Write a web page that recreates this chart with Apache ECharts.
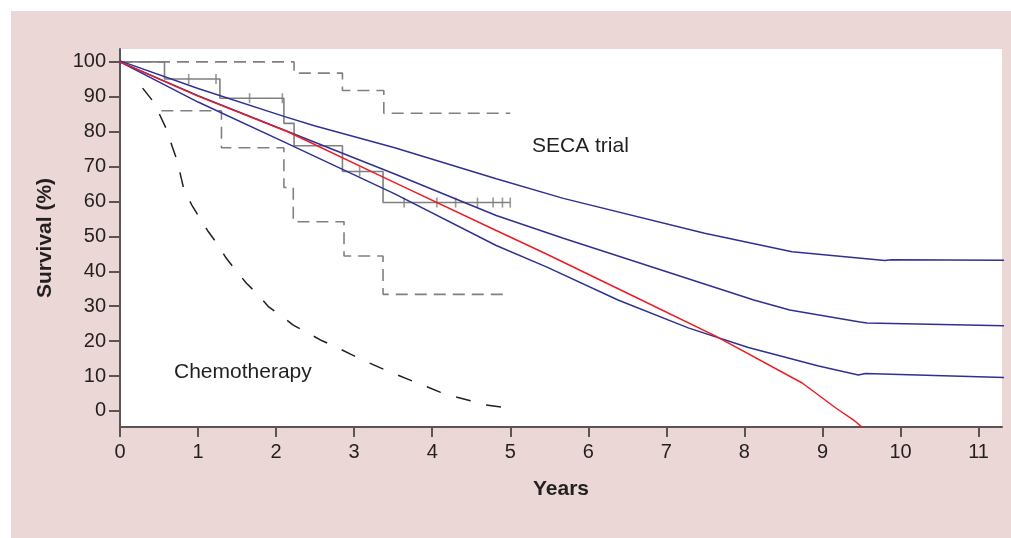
<!DOCTYPE html>
<html>
<head>
<meta charset="utf-8">
<script src="https://cdn.jsdelivr.net/npm/echarts@6/dist/echarts.min.js"></script>
<style>
html,body{margin:0;padding:0;background:#ffffff;width:1011px;height:538px;overflow:hidden;}
#chart{position:absolute;left:11px;top:11px;width:1000px;height:527px;background:#ebd7d6;}
</style>
</head>
<body>
<div id="chart"></div>
<script>
// ---- tick labels ----
const xTicks = [0,1,2,3,4,5,6,7,8,9,10,11];
const yTicks = [0,10,20,30,40,50,60,70,80,90,100];

// ---- annotation texts ----
const labelSeca = 'SECA trial';
const labelChemo = 'Chemotherapy';
const xName = 'Years';
const yName = 'Survival (%)';

// ---- SECA trial Kaplan-Meier (solid grey) ----
const kmSeca = [[0,100],[0.57,95.1],[1.28,89.6],[2.10,82.4],[2.23,76.0],[2.85,68.6],[3.37,59.7],[5.0,59.7]];
// censor marks
const censorSeca = [[0.88,95.1],[1.23,95.1],[1.66,89.6],[2.08,89.6],[3.07,68.6],
  [3.64,59.7],[4.06,59.7],[4.30,59.7],[4.58,59.7],[4.78,59.7],[4.90,59.7],[5.0,59.7]];
// confidence bounds (dashed grey)
const kmUpperCI = [[0,100],[2.23,96.8],[2.85,91.8],[3.38,85.3],[5.0,85.3]];
const kmLowerCI = [[0.53,86.0],[1.30,75.4],[2.10,64.0],[2.22,54.2],[2.87,44.4],[3.37,33.4],[4.95,33.4]];

// ---- modelled survival (blue) ----
const modelUpper = [[0,100.3],[1,92.4],[2.10,84.4],[2.49,81.7],[3.52,75.4],[4.82,66.5],[5.68,60.9],
  [7.49,50.9],[8.61,45.6],[9.80,43.1],[9.88,43.3],[11.4,43.2]];
const modelMiddle = [[0,100],[1,90.3],[2.10,80.5],[3.52,67.9],[4.82,56.0],[5.68,49.5],[8.12,31.8],
  [8.58,28.9],[9.48,25.5],[9.57,25.2],[11.4,24.4]];
const modelLower = [[0,100],[1,88.5],[2.10,77.1],[3.52,62.2],[4.82,47.4],[5.47,41.2],[6.38,31.8],
  [7.28,23.8],[8.05,18.2],[8.95,12.9],[9.46,10.3],[9.55,10.7],[11.4,9.5]];
// ---- red extrapolation ----
const modelRed = [[0,100],[1,90.2],[2.15,80.0],[3.52,65.4],[4.82,51.7],[5.47,44.9],[6.68,31.8],
  [7.62,21.6],[8.74,8.0],[9.18,0.7],[9.40,-2.6],[9.53,-5.1]];

// ---- chemotherapy (black dashed) ----
const chemo = [[0.29,92.5],[0.41,89.1],[0.51,84.8],[0.59,81.0],[0.67,75.7],[0.73,71.9],[0.79,66.2],
  [0.82,63.3],[0.92,59.0],[1.01,55.7],[1.13,51.4],[1.24,48.1],[1.36,43.8],[1.48,40.4],[1.62,36.6],
  [1.76,33.5],[1.90,29.9],[2.06,27.3],[2.22,24.6],[2.40,22.4],[2.59,20.1],[2.77,18.3],[2.96,16.2],
  [3.14,14.3],[3.33,12.4],[3.52,10.6],[3.71,8.9],[3.90,7.2],[4.10,5.4],[4.29,4.1],[4.49,2.9],
  [4.69,1.7],[4.95,0.95]];

const axisColor = '#5a5454';
const textColor = '#231f20';
const grey = '#808080';
const blue = '#2e3192';
const red = '#ed1c24';
const fontFam = '"Liberation Sans", Arial, Helvetica, sans-serif';

const chart = echarts.init(document.getElementById('chart'), null, {renderer:'canvas'});

function lineS(data, color, width, type, step, z){
  return {type:'line', data:data, showSymbol:false, symbol:'none', step:step||false,
    lineStyle:{color:color, width:width, type:type||'solid'}, z:z||2, silent:true};
}

chart.setOption({
  animation:false,
  backgroundColor:'transparent',
  grid:{left:109, top:38, width:882, height:378, show:true, backgroundColor:'#ffffff', borderWidth:0},
  xAxis:{
    type:'value', min:0, max:11.3,
    name:xName, nameLocation:'middle', nameGap:52,
    nameTextStyle:{fontFamily:fontFam, fontSize:21, fontWeight:'bold', color:textColor},
    axisLine:{show:true, onZero:false, lineStyle:{color:axisColor, width:2}},
    axisTick:{show:true, length:10, lineStyle:{color:axisColor, width:2}, customValues:xTicks},
    axisLabel:{fontFamily:fontFam, fontSize:20, color:textColor, margin:15, customValues:xTicks},
    splitLine:{show:false}
  },
  yAxis:{
    type:'value', min:-4.6, max:103.7,
    name:yName, nameLocation:'middle', nameGap:64, nameRotate:90,
    nameTextStyle:{fontFamily:fontFam, fontSize:21, fontWeight:'bold', color:textColor},
    axisLine:{show:true, onZero:false, lineStyle:{color:axisColor, width:2}},
    axisTick:{show:true, length:11, lineStyle:{color:axisColor, width:2}, customValues:yTicks},
    axisLabel:{fontFamily:fontFam, fontSize:20, color:textColor, margin:14, customValues:yTicks},
    splitLine:{show:false}
  },
  graphic:[
    {type:'text', left:521, top:125, style:{text:labelSeca, font:'21px '+fontFam, fill:textColor}},
    {type:'text', left:163, top:351, style:{text:labelChemo, font:'21px '+fontFam, fill:textColor}}
  ],
  series:[
    lineS(chemo, textColor, 1.5, [15,16], false, 2),
    lineS(kmUpperCI, grey, 1.6, [12,7], 'end', 3),
    lineS(kmLowerCI, grey, 1.6, [12,7], 'end', 3),
    lineS(kmSeca, grey, 1.6, 'solid', 'end', 3),
    {type:'scatter', data:censorSeca, symbol:'rect', symbolSize:[1.6,10], itemStyle:{color:grey}, z:3, silent:true},
    lineS(modelUpper, blue, 1.5, 'solid', false, 4),
    lineS(modelMiddle, blue, 1.5, 'solid', false, 4),
    lineS(modelLower, blue, 1.5, 'solid', false, 4),
    lineS(modelRed, red, 1.5, 'solid', false, 5)
  ]
});
</script>
</body>
</html>
